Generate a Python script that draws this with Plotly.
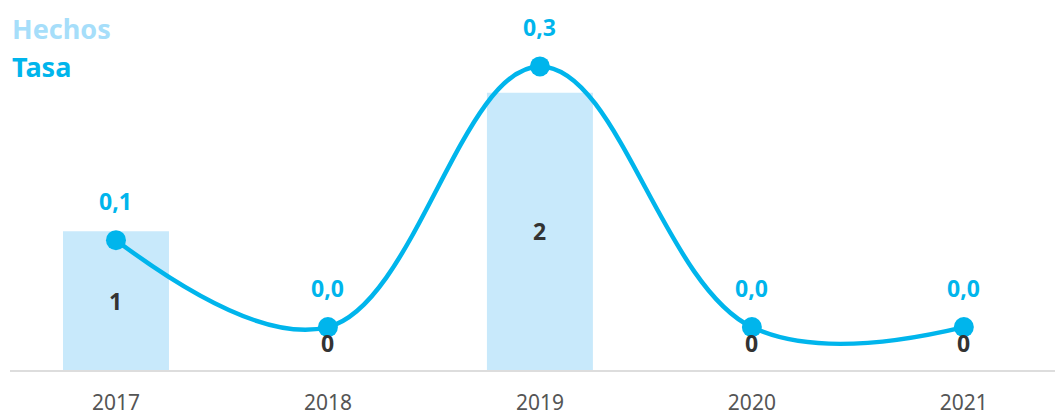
import plotly.graph_objects as go

years = ["2017", "2018", "2019", "2020", "2021"]
hechos = [1, 0, 2, 0, 0]
tasa = [0.1, 0.0, 0.3, 0.0, 0.0]

BAR_COLOR = "#c8e9fb"
LINE_COLOR = "#00b5ec"
FONT = "Noto Sans"

pos = list(range(len(years)))


def fmt(v):
    return f"{v:.1f}".replace(".", ",")


fig = go.Figure()

fig.add_trace(
    go.Bar(
        x=pos,
        y=hechos,
        width=0.5,
        marker=dict(color=BAR_COLOR, line=dict(width=0)),
        name="Hechos",
        hoverinfo="skip",
    )
)

fig.add_trace(
    go.Scatter(
        x=pos,
        y=tasa,
        yaxis="y2",
        mode="lines+markers",
        line=dict(color=LINE_COLOR, width=4.5, shape="spline", smoothing=1.1),
        marker=dict(color=LINE_COLOR, size=20),
        cliponaxis=False,
        name="Tasa",
    )
)

# bar value labels: centred inside the bar, zeros sit just above the baseline
for i, v in zip(pos, hechos):
    fig.add_annotation(
        x=i,
        y=v / 2 if v else 0,
        xref="x",
        yref="y",
        yshift=0 if v else 27,
        text=f"<b>{v}</b>",
        showarrow=False,
        font=dict(family=FONT, size=23, color="#333333"),
    )

# rate labels above the markers
for i, v in zip(pos, tasa):
    fig.add_annotation(
        x=i,
        y=v,
        xref="x",
        yref="y2",
        yshift=39,
        text=f"<b>{fmt(v)}</b>",
        showarrow=False,
        font=dict(family=FONT, size=23, color=LINE_COLOR),
    )

# text-only legend
fig.add_annotation(
    xref="paper", yref="paper", x=0.0, y=1.0, xanchor="left", yanchor="middle",
    yshift=-28, text="<b>Hechos</b>", showarrow=False,
    font=dict(family=FONT, size=27, color="#a6defa"),
)
fig.add_annotation(
    xref="paper", yref="paper", x=0.0, y=1.0, xanchor="left", yanchor="middle",
    yshift=-66, text="<b>Tasa</b>", showarrow=False,
    font=dict(family=FONT, size=27, color=LINE_COLOR),
)

fig.update_layout(
    width=1055,
    height=416,
    margin=dict(l=10, r=0, t=0, b=37),
    paper_bgcolor="white",
    plot_bgcolor="white",
    showlegend=False,
    font=dict(family=FONT),
    xaxis=dict(
        range=[-0.5, 4.43],
        tickvals=pos,
        ticktext=years,
        showgrid=False,
        zeroline=False,
        showline=True,
        linecolor="#dddddd",
        linewidth=2,
        ticks="outside",
        ticklen=13,
        tickcolor="rgba(0,0,0,0)",
        tickfont=dict(family=FONT, size=21, color="#555555"),
        fixedrange=True,
    ),
    yaxis=dict(
        range=[0, 2.669],
        showticklabels=False,
        showline=False,
        showgrid=False,
        zeroline=False,
        fixedrange=True,
    ),
    yaxis2=dict(
        range=[-0.0494, 0.3764],
        overlaying="y",
        showticklabels=False,
        showline=False,
        showgrid=False,
        zeroline=False,
        fixedrange=True,
    ),
)

fig.write_html(
    "out.html",
    config={"displayModeBar": False},
    post_script="document.body.style.margin='0';",
)
